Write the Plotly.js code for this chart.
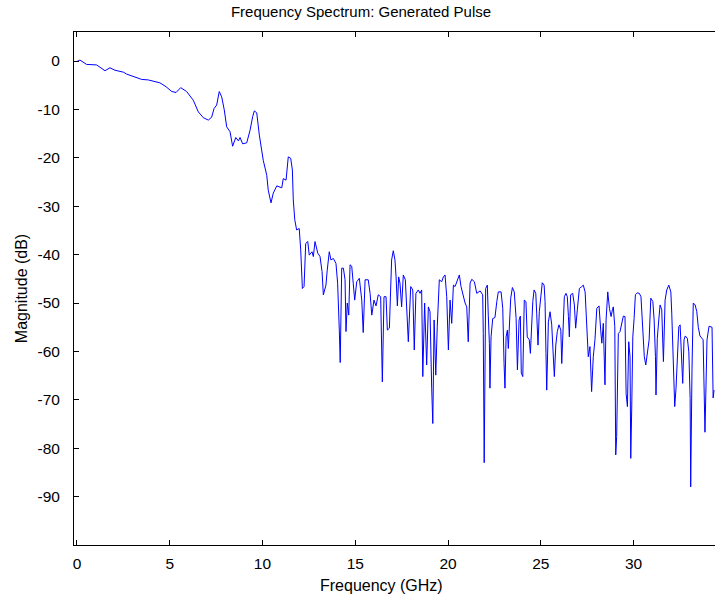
<!DOCTYPE html>
<html>
<head>
<meta charset="utf-8">
<script src="https://cdn.plot.ly/plotly-3.0.1.min.js"></script>
<style>
html,body{margin:0;padding:0;overflow:hidden;background:#fff;}
#chart{width:740px;height:603px;}
</style>
</head>
<body>
<div id="chart"></div>
<script>
// Frequency (GHz)
const freqGHz = [
0.00,0.16,0.52,1.06,1.51,1.78,2.05,2.50,2.68,3.22,3.49,3.84,4.20,4.47,4.80,5.11,5.34,5.59,5.91,6.27,
6.54,6.81,7.08,7.26,7.39,7.53,7.67,7.80,7.94,8.07,8.25,8.39,8.56,8.70,8.79,8.93,9.15,9.33,9.47,9.56,
9.69,9.83,10.04,10.23,10.31,10.46,10.58,10.77,11.04,11.12,11.27,11.39,11.52,11.61,11.66,11.74,
11.84,11.98,12.06,12.15,12.24,12.33,12.44,12.52,12.67,12.74,12.83,12.98,13.10,13.21,13.28,13.42,13.49,13.60,13.69,13.82,13.96,
14.05,14.14,14.19,14.27,14.36,14.45,14.50,14.57,14.65,14.72,14.81,14.89,14.97,15.08,15.22,15.35,15.43,15.53,15.70,15.80,15.89,
16.01,16.12,16.24,16.37,16.46,16.55,16.66,16.73,16.84,16.96,17.05,17.14,17.20,17.27,17.34,17.41,17.50,17.59,17.70,17.77,17.86,17.99,
18.10,18.18,18.27,18.40,18.49,18.58,18.64,18.74,18.85,18.94,19.03,19.12,19.18,19.25,19.34,19.42,19.53,19.66,19.75,19.84,19.93,
20.02,20.11,20.20,20.29,20.38,20.47,20.61,20.70,20.82,20.92,21.01,21.09,21.19,21.28,21.42,21.55,21.73,21.87,21.90,21.95,
22.03,22.12,22.17,22.23,22.26,22.32,22.41,22.53,22.63,22.71,22.86,
22.95,23.02,23.07,23.13,23.20,23.25,23.30,23.38,23.47,23.57,23.67,23.74,23.83,23.90,23.95,24.03,24.11,24.20,24.27,24.38,24.44,
24.51,24.57,24.64,24.73,24.78,24.85,24.92,25.00,25.08,25.18,25.23,25.28,25.32,25.41,25.50,25.59,25.68,25.73,25.81,25.89,25.98,
26.08,26.13,26.22,26.27,26.36,26.43,26.49,26.54,26.61,26.72,26.81,26.88,26.97,27.08,27.21,27.29,27.39,27.48,27.56,27.65,27.74,
27.83,27.92,28.02,28.14,28.23,28.29,28.37,28.46,28.52,28.61,28.70,28.79,28.86,28.91,28.99,29.04,29.09,29.18,29.27,29.36,29.45,
29.54,29.60,29.67,29.74,29.81,29.85,29.90,29.96,30.03,30.10,30.20,30.31,30.40,30.50,30.58,30.66,30.74,30.84,30.93,31.04,31.11,
31.18,31.21,31.28,31.36,31.43,31.52,31.61,31.70,31.79,31.90,32.01,32.06,32.15,32.22,32.29,32.36,32.44,32.51,32.58,32.65,32.72,
32.79,32.90,32.98,33.05,33.08,33.15,33.22,33.32,33.41,33.49,33.58,33.75,33.85,33.96,34.07,34.23,34.29,34.34
];
// Magnitude (dB)
const magnitudeDB = [
-0.1,0.2,-0.7,-0.8,-2.0,-1.4,-1.9,-2.3,-2.7,-3.4,-3.8,-3.9,-4.3,-4.5,-5.3,-6.3,-6.5,-5.5,-6.3,-8.1,
-10.5,-11.7,-12.2,-11.6,-9.8,-9.1,-6.3,-7.4,-10.1,-13.6,-14.6,-17.6,-15.8,-16.5,-15.8,-17.1,-16.9,-14.3,-11.5,-10.3,
-10.7,-15.3,-20.5,-23.6,-26.7,-29.3,-27.3,-25.8,-26.2,-24.3,-24.6,-19.8,-20.1,-22.5,-28.7,-32.8,
-34.9,-34.6,-39,-47,-46.6,-37.7,-37.3,-40.1,-39.4,-40.4,-37.3,-39.7,-40.4,-43.5,-48.3,-46.3,-43.2,-39.4,-41.1,-40.8,-41.8,
-45.9,-55.6,-62.3,-42.8,-42.8,-45.2,-55.9,-50,-52.5,-42.1,-42.4,-45.9,-49.4,-45.6,-44.9,-49.4,-56.1,-45.2,-45.2,-48,-52.5,
-49.4,-50.6,-48.3,-48.7,-66.3,-48.7,-48.7,-55.6,-55.2,-41.1,-39.2,-41.1,-44.6,-50.6,-44.6,-45.9,-50.8,-44.2,-45.2,-50.8,-58,-46.6,
-47.3,-59.7,-48,-47.3,-48,-47.3,-65.2,-50,-62.8,-50.8,-51.8,-67.6,-74.9,-53.5,-64.9,-54.9,-45.2,-45.6,-44.6,-44.2,-48.7,
-59.7,-49.4,-54.2,-46.3,-46.6,-45.6,-44.2,-46.6,-48.7,-50,-50.8,-58,-45.9,-45.1,-45.6,-48,-47.5,-48.3,-56.3,-83,
-47,-46.3,-52.5,-58.3,-67.6,-57,-53.2,-53,-49.7,-47.7,-47.7,
-51.1,-62.5,-67.6,-57,-55.6,-59.4,-56.3,-49,-46.8,-47.7,-53.2,-63.8,-53.5,-52.7,-64.5,-65.2,-49.4,-49.7,-57,-57.6,-60.4,
-53.5,-49.7,-47.3,-48,-52.1,-58.7,-51.8,-48,-45.8,-46.3,-49.7,-60.4,-68,-53.9,-51.8,-54.5,-62.5,-65.2,-58.7,-55.9,-54.5,
-55.6,-62.5,-54.9,-48.7,-48,-48.7,-52.8,-57,-48.3,-48,-50.4,-55.2,-51.4,-47,-46.6,-46.3,-47.7,-55.6,-61.1,-59,-68.3,
-61.1,-57.6,-51.1,-50.6,-55.6,-58.3,-54.2,-66.9,-53.5,-47.7,-51.1,-52.8,-51.4,-50.8,-54.9,-81.4,-77.6,-56.3,-55.9,-54.5,-52.7,
-52.8,-68.7,-71.4,-58,-61.1,-82.1,-72.1,-57,-53.2,-48.3,-47.9,-48,-48.7,-54.5,-61.1,-62.8,-60.7,-57.6,-49,-49.7,-53.5,
-61.1,-69,-57.3,-53.5,-50.4,-51.4,-62.1,-49.4,-47.3,-46.3,-47.7,-52.1,-61.1,-71.4,-67.6,-62.5,-54.9,-54.5,-61.1,-66.6,-57.6,
-56.8,-57.3,-60.1,-69.7,-88,-63.8,-50,-50.4,-51.8,-55,-56.8,-57.6,-76.7,-57.6,-54.8,-55,-69.6,-68
];
const xTickVals = [0, 5, 10, 15, 20, 25, 30];
const yTickVals = [0, -10, -20, -30, -40, -50, -60, -70, -80, -90];

const fontFam = '"Liberation Sans", Arial, sans-serif';

const trace = {
  x: freqGHz,
  y: magnitudeDB,
  type: 'scatter',
  mode: 'lines',
  line: {color: '#0000ff', width: 1},
  hoverinfo: 'x+y'
};

const axisCommon = {
  showline: true,
  linecolor: '#000',
  linewidth: 1,
  mirror: 'ticks',
  ticks: 'inside',
  ticklen: 5,
  tickwidth: 1,
  tickcolor: '#000',
  showgrid: false,
  zeroline: false,
  tickfont: {family: fontFam, size: 15.5, color: '#000'}
};

const layout = {
  width: 740,
  height: 603,
  margin: {l: 74, r: 20, t: 32, b: 58, pad: 0},
  paper_bgcolor: '#fff',
  plot_bgcolor: '#fff',
  showlegend: false,
  title: {
    text: 'Frequency Spectrum: Generated Pulse',
    font: {family: fontFam, size: 15, color: '#000'},
    xref: 'container', x: 361/740, xanchor: 'center',
    yref: 'container', y: 1 - 12/603, yanchor: 'middle'
  },
  xaxis: Object.assign({}, axisCommon, {
    range: [-0.16, 34.66],
    tickvals: xTickVals,
    ticktext: xTickVals.map(String),
    ticklabelstandoff: 4
  }),
  yaxis: Object.assign({}, axisCommon, {
    range: [-100, 6],
    tickvals: yTickVals,
    ticktext: yTickVals.map(String),
    ticklabelstandoff: 10,
    title: {text: 'Magnitude (dB)', font: {family: fontFam, size: 16, color: '#000'}, standoff: 5}
  }),
  annotations: [{
    text: 'Frequency (GHz)',
    font: {family: fontFam, size: 16, color: '#000'},
    xref: 'paper', x: (381 - 74) / (720 - 74), xanchor: 'center',
    yref: 'paper', y: -(585 - 545) / (545 - 32), yanchor: 'middle',
    showarrow: false
  }]
};

Plotly.newPlot('chart', [trace], layout, {displayModeBar: false, staticPlot: true});
</script>
</body>
</html>
